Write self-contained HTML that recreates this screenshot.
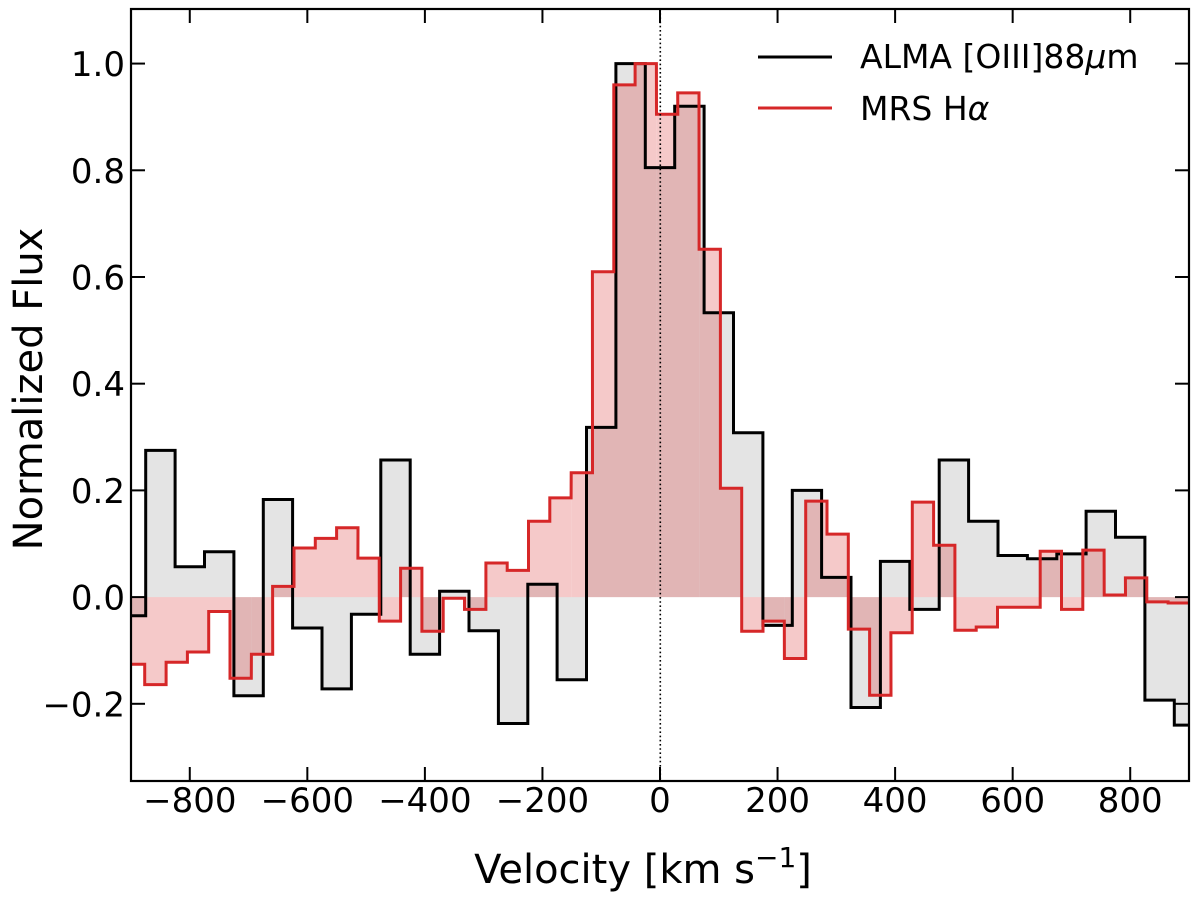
<!DOCTYPE html>
<html><head><meta charset="utf-8"><style>
html,body{margin:0;padding:0;background:#fff;}
svg{display:block;font-family:"DejaVu Sans","Liberation Sans",sans-serif;}
</style></head><body>
<svg id="chart" width="1200" height="903" viewBox="0 0 1200 903" xmlns="http://www.w3.org/2000/svg">
<g id="fills"></g>
<g id="lines"></g>
<line x1="660.3" y1="9" x2="660.3" y2="781" stroke="#000" stroke-width="1.6" stroke-dasharray="1.6,2.6"/>
<rect x="131" y="9" width="1058" height="772" fill="none" stroke="#000" stroke-width="2.2"/>
<g id="ticks"></g>
<g>
 <line x1="758" y1="57" x2="832" y2="57" stroke="#000" stroke-width="3"/>
 <text x="860" y="68" font-size="33">ALMA [OIII]88<tspan font-style="italic">μ</tspan>m</text>
 <line x1="758" y1="108" x2="832" y2="108" stroke="#d62728" stroke-width="3"/>
 <text x="860" y="120" font-size="33">MRS H<tspan font-style="italic">α</tspan></text>
</g>
<text x="643" y="883" font-size="40" text-anchor="middle">Velocity [km s<tspan dy="-16" font-size="28">−1</tspan><tspan dy="16">]</tspan></text>
<text transform="translate(42,389) rotate(-90)" font-size="40" text-anchor="middle">Normalized Flux</text>
</svg>
<script>
const almaCenters = [-900,-850,-800,-750,-700,-650,-600,-550,-500,-450,-400,-350,-300,-250,-200,-150,-100,-50,0,50,100,150,200,250,300,350,400,450,500,550,600,650,700,750,800,850,900];
const almaValues = [-0.035,0.275,0.057,0.085,-0.185,0.183,-0.058,-0.172,-0.032,0.257,-0.107,0.011,-0.063,-0.237,0.024,-0.155,0.318,1.0,0.805,0.92,0.533,0.308,-0.053,0.2,0.037,-0.207,0.067,-0.023,0.257,0.142,0.078,0.072,0.081,0.161,0.112,-0.193,-0.24];
const almaWidth = 50;
const mrsCenters = [-894.8,-858.5,-822.2,-785.9,-749.7,-713.4,-677.1,-640.9,-604.6,-568.3,-532.0,-495.8,-459.5,-423.2,-386.9,-350.7,-314.4,-278.1,-241.8,-205.6,-169.3,-133.0,-96.8,-60.5,-24.2,12.1,48.3,84.6,120.9,157.1,193.4,229.7,266.0,302.2,338.5,374.8,411.0,447.3,483.6,519.9,556.1,592.4,628.7,665.0,701.2,737.5,773.8,810.0,846.3,882.6];
const mrsValues = [-0.126,-0.164,-0.122,-0.103,-0.027,-0.152,-0.107,0.02,0.092,0.11,0.13,0.073,-0.045,0.054,-0.064,-0.002,-0.023,0.064,0.05,0.142,0.186,0.233,0.61,0.96,1.0,0.905,0.945,0.652,0.204,-0.064,-0.045,-0.115,0.18,0.118,-0.06,-0.184,-0.067,0.178,0.097,-0.062,-0.056,-0.019,-0.019,0.086,-0.023,0.088,0.004,0.036,-0.009,-0.011];
const mrsWidth = 36.27;
const xTicks = [-800,-600,-400,-200,0,200,400,600,800];
const xTickLabels = ["−800","−600","−400","−200","0","200","400","600","800"];
const yTicks = [-0.2,0,0.2,0.4,0.6,0.8,1.0];
const yTickLabels = ["−0.2","0.0","0.2","0.4","0.6","0.8","1.0"];

const X0=131,X1=1189,Y0=9,Y1=781, XMIN=-900,XMAX=900, YMIN=-0.3447, YMAX=1.1023;
function xs(v){return X0+(v-XMIN)/(XMAX-XMIN)*(X1-X0);}
function ys(v){return Y1-(v-YMIN)/(YMAX-YMIN)*(Y1-Y0);}
const NS="http://www.w3.org/2000/svg";
function clip(v){return Math.max(XMIN,Math.min(XMAX,v));}
function stepPath(c,v,w){
  let d="";
  for(let i=0;i<c.length;i++){
    const a=xs(clip(c[i]-w/2)), b=xs(clip(c[i]+w/2)), y=ys(v[i]);
    d+=(i===0?"M":"L")+a.toFixed(1)+","+y.toFixed(1)+"L"+b.toFixed(1)+","+y.toFixed(1);
  }
  return d;
}
function fillPath(c,v,w){
  const z=ys(0);
  let d="";
  for(let i=0;i<c.length;i++){
    const a=xs(clip(c[i]-w/2)), b=xs(clip(c[i]+w/2)), y=ys(v[i]);
    d+="M"+a.toFixed(1)+","+z.toFixed(1)+"L"+a.toFixed(1)+","+y.toFixed(1)+"L"+b.toFixed(1)+","+y.toFixed(1)+"L"+b.toFixed(1)+","+z.toFixed(1)+"Z";
  }
  return d;
}
const fills=document.getElementById('fills'), lines=document.getElementById('lines'), ticks=document.getElementById('ticks');
let p=document.createElementNS(NS,'path');


p.setAttribute('d',fillPath(almaCenters,almaValues,almaWidth));
p.setAttribute('fill','#e4e4e4');
fills.appendChild(p);
p=document.createElementNS(NS,'path');


p.setAttribute('d',fillPath(mrsCenters,mrsValues,mrsWidth));
p.setAttribute('fill','#d62728');
p.setAttribute('fill-opacity','0.25');
fills.appendChild(p);
p=document.createElementNS(NS,'path');


p.setAttribute('d',stepPath(almaCenters,almaValues,almaWidth));
p.setAttribute('fill','none');p.setAttribute('stroke','#000');p.setAttribute('stroke-width','3');
lines.appendChild(p);
p=document.createElementNS(NS,'path');


p.setAttribute('d',stepPath(mrsCenters,mrsValues,mrsWidth));
p.setAttribute('fill','none');p.setAttribute('stroke','#d62728');p.setAttribute('stroke-width','3');
lines.appendChild(p);
function ln(x1,y1,x2,y2,name){
  const l=document.createElementNS(NS,'line');
  
  
  l.setAttribute('x1',x1);l.setAttribute('y1',y1);l.setAttribute('x2',x2);l.setAttribute('y2',y2);
  l.setAttribute('stroke','#000');l.setAttribute('stroke-width','2');
  ticks.appendChild(l);
}
function tx(x,y,s,anchor,name){
  const t=document.createElementNS(NS,'text');
  
  
  t.setAttribute('x',x);t.setAttribute('y',y);t.setAttribute('font-size','34');t.setAttribute('text-anchor',anchor);
  t.textContent=s;
  ticks.appendChild(t);
}
xTicks.forEach((v,i)=>{
  const x=xs(v);
  ln(x,Y1,x,Y1-14,'x-tick');
  ln(x,Y0,x,Y0+14,'x-tick-top');
  tx(x,812,xTickLabels[i],'middle','x-tick-label');
});
yTicks.forEach((v,i)=>{
  const y=ys(v);
  ln(X0,y,X0+14,y,'y-tick');
  ln(X1,y,X1-14,y,'y-tick-right');
  tx(125,y+12.5,yTickLabels[i],'end','y-tick-label');
});
</script>
</body></html>
